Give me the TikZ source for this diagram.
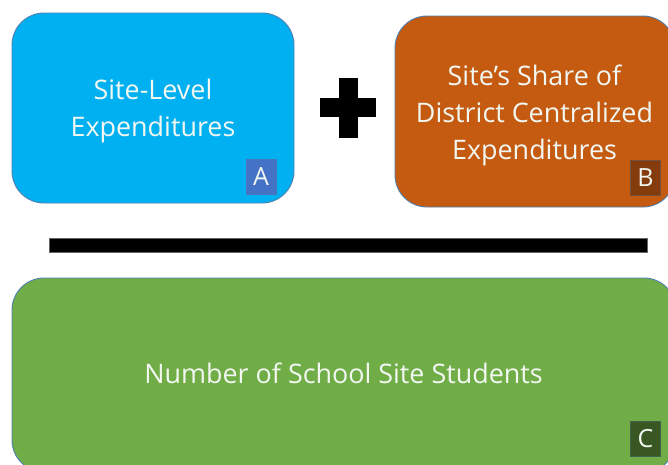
\documentclass[tikz,border=0pt]{standalone}
\usepackage{fontspec}
\setmainfont{Open Sans}
\definecolor{cblue}{HTML}{00B0F0}
\definecolor{corange}{HTML}{C55A11}
\definecolor{cgreen}{HTML}{70AD47}
\definecolor{cedge}{HTML}{4F7FAF}
\definecolor{abadge}{HTML}{4472C4}
\definecolor{bbadge}{HTML}{843C0C}
\definecolor{cbadge}{HTML}{385723}
\definecolor{txt}{HTML}{F2F7F2}
\tikzset{
  panel/.style={draw=cedge,line width=0.9pt,rounded corners=32pt,inner sep=0pt,outer sep=0pt,anchor=north west},
  label/.style={text=txt,font=\fontsize{26.9pt}{37.3pt}\selectfont,align=center,inner sep=0pt},
  badge/.style={draw=#1!70!cedge,line width=0.8pt,fill=#1,text=txt,font=\fontsize{25pt}{28pt}\selectfont,inner sep=0pt,outer sep=0pt,minimum width=30pt,minimum height=35pt,anchor=center},
  barshape/.style={fill=black,draw=black!60,line width=0.4pt,inner sep=0pt,outer sep=0pt,anchor=north west}
}
\begin{document}
\begin{tikzpicture}[x=1pt,y=-1pt]
\useasboundingbox (0,0) rectangle (668,464);
\node[panel,fill=cblue,minimum width=282pt,minimum height=190pt] (pa) at (12,13) {};
\node[panel,fill=corange,minimum width=280pt,minimum height=191pt] (pb) at (395,16) {};
\node[panel,fill=cgreen,minimum width=664pt,minimum height=194pt] (pc) at (12,278) {};
\node[label] (ta) at (153,111) {Site-Level\\Expenditures};
\node[label] (tb) at (534.5,115.5) {Site’s Share of\\District Centralized\\Expenditures};
\node[label] (tc) at (343.5,373) {Number of School Site Students};
\node[badge=abadge] (ba) at (261,176.5) {A};
\node[badge=bbadge] (bb) at (645.5,178) {B};
\node[badge=cbadge] (bc) at (645.5,439) {C};
\node[barshape,minimum width=598pt,minimum height=14pt] (bar) at (49.5,238) {};
\node[barshape,draw=none,minimum width=19pt,minimum height=60pt] (plusv) at (339,78) {};
\node[barshape,draw=none,minimum width=56pt,minimum height=19pt] (plush) at (320,98) {};
\end{tikzpicture}
\end{document}
